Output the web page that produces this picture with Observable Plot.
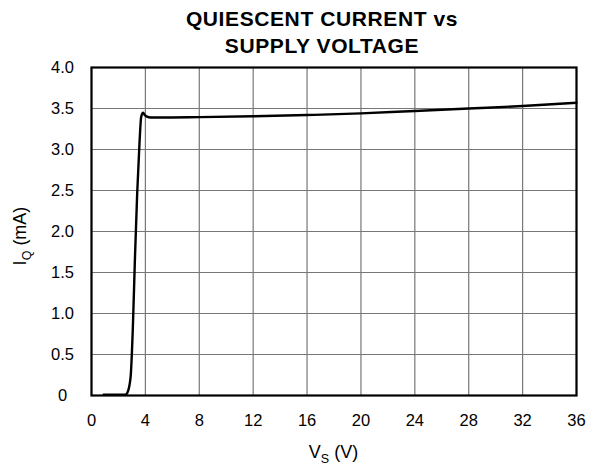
<!DOCTYPE html>
<html><head><meta charset="utf-8">
<script src="https://cdn.jsdelivr.net/npm/d3@7"></script>
<script src="https://cdn.jsdelivr.net/npm/@observablehq/plot@0.6"></script>
<style>body{margin:0;background:#fff}</style>
</head><body><div id="chart"></div>
<script>
const vs = [0.9, 2.5, 2.65, 2.9, 3.07, 3.22, 3.39, 3.56, 3.69, 3.83, 3.95, 4.13, 4.38, 5, 8, 12, 16, 20, 24, 28, 32, 36];
const iq = [0.01, 0.01, 0.03, 0.22, 0.83, 1.65, 2.46, 3.07, 3.40, 3.45, 3.42, 3.40, 3.39, 3.39, 3.395, 3.405, 3.42, 3.44, 3.47, 3.50, 3.53, 3.57];
const xTicks = [0, 4, 8, 12, 16, 20, 24, 28, 32, 36];
const yTicks = [0, 0.5, 1, 1.5, 2, 2.5, 3, 3.5, 4];
const titleLines = ["QUIESCENT CURRENT vs", "SUPPLY VOLTAGE"];

const data = vs.map((v, i) => ({v, i: iq[i]}));
const font = "'Liberation Sans', Arial, Helvetica, sans-serif";

const W = 589, H = 465, mL = 91, mR = 13, mT = 67, mB = 70;
const svg = Plot.plot({
  width: W, height: H,
  marginLeft: mL, marginRight: mR, marginTop: mT, marginBottom: mB,
  style: {fontFamily: font, fontSize: "17px", color: "#000", background: "#fff"},
  x: {domain: [0, 36], ticks: xTicks},
  y: {domain: [0, 4], ticks: yTicks},
  marks: [
    Plot.gridX(xTicks, {stroke: "#777", strokeOpacity: 1, strokeWidth: 1.2}),
    Plot.gridY(yTicks, {stroke: "#777", strokeOpacity: 1, strokeWidth: 1.2}),
    Plot.axisX(xTicks, {tickSize: 0, tickPadding: 19, label: null, fontSize: 16.5}),
    Plot.axisY(yTicks, {tickSize: 0, tickPadding: 29, textAnchor: "middle", label: null, fontSize: 16.5,
      tickFormat: d => d === 0 ? "0" : d.toFixed(1)}),
    Plot.line(data, {x: "v", y: "i", curve: "monotone-x", stroke: "#000", strokeWidth: 2.4}),
    Plot.frame({stroke: "#000", strokeWidth: 2.2})
  ]
});

const s = d3.select(svg);
s.append("text").attr("x", 322).attr("y", 26).attr("text-anchor", "middle")
  .attr("font-size", 21).attr("font-weight", "bold").attr("letter-spacing", 0.6)
  .attr("font-family", font).attr("fill", "#000").text(titleLines[0]);
s.append("text").attr("x", 322).attr("y", 53).attr("text-anchor", "middle")
  .attr("font-size", 21).attr("font-weight", "bold").attr("letter-spacing", 0.6)
  .attr("font-family", font).attr("fill", "#000").text(titleLines[1]);

const cx = mL + (W - mL - mR) / 2;
const xl = s.append("text").attr("x", cx).attr("y", 458).attr("text-anchor", "middle")
  .attr("font-size", 18).attr("font-family", font).attr("fill", "#000");
xl.append("tspan").text("V");
xl.append("tspan").attr("font-size", 12.5).attr("dy", 5).text("S");
xl.append("tspan").attr("dy", -5).text(" (V)");

const yl = s.append("text").attr("transform", `translate(26,236) rotate(-90)`).attr("text-anchor", "middle")
  .attr("font-size", 18).attr("font-family", font).attr("fill", "#000");
yl.append("tspan").text("I");
yl.append("tspan").attr("font-size", 12.5).attr("dy", 5).text("Q");
yl.append("tspan").attr("dy", -5).text(" (mA)");

document.getElementById("chart").appendChild(svg);
</script></body></html>
